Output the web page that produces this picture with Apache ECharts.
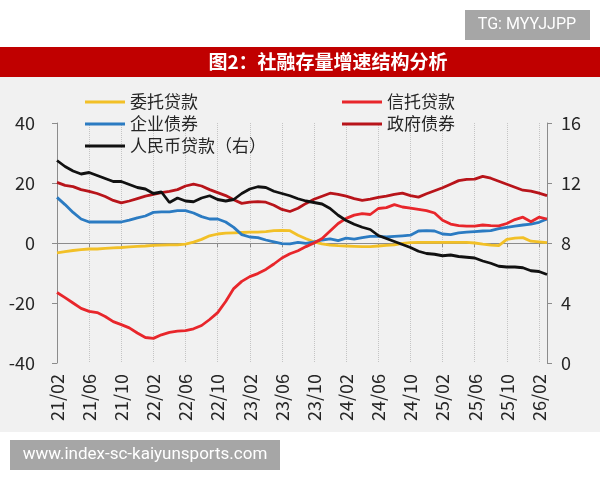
<!DOCTYPE html>
<html>
<head>
<meta charset="utf-8">
<script src="https://cdn.jsdelivr.net/npm/echarts@6/dist/echarts.min.js"></script>
<style>
  html, body { margin: 0; padding: 0; background: #fff; }
  #container { width: 600px; height: 480px; }
</style>
</head>
<body>
<div id="container"></div>
<script>
    // 月份（21/02 - 26/03）
    var months = ["21/02","21/03","21/04","21/05","21/06","21/07","21/08","21/09","21/10","21/11","21/12",
        "22/01","22/02","22/03","22/04","22/05","22/06","22/07","22/08","22/09","22/10","22/11","22/12",
        "23/01","23/02","23/03","23/04","23/05","23/06","23/07","23/08","23/09","23/10","23/11","23/12",
        "24/01","24/02","24/03","24/04","24/05","24/06","24/07","24/08","24/09","24/10","24/11","24/12",
        "25/01","25/02","25/03","25/04","25/05","25/06","25/07","25/08","25/09","25/10","25/11","25/12",
        "26/01","26/02","26/03"];
    // 左轴 (%)
    var entrusted = [-3.3,-2.9,-2.5,-2.2,-2.0,-2.0,-1.8,-1.6,-1.5,-1.3,-1.1,-1.0,-0.8,-0.7,-0.6,-0.6,-0.4,0.3,1.2,2.4,3.0,
        3.3,3.4,3.5,3.6,3.6,3.8,4.1,4.2,4.1,2.6,1.4,0.4,-0.3,-0.7,-0.9,-1.0,-1.1,-1.2,-1.2,-1.0,
        -0.8,-0.6,-0.1,0.1,0.2,0.2,0.2,0.2,0.2,0.2,0.2,0.0,-0.4,-0.7,-0.9,1.2,1.6,1.8,0.6,0.4,0.1];
    var trust = [-16.5,-18.2,-20.0,-21.8,-22.8,-23.2,-24.5,-26.2,-27.2,-28.3,-30.0,-31.5,-31.8,-30.6,-29.8,-29.4,-29.2,-28.6,-27.5,-25.5,-23.2,
        -19.5,-15.2,-12.8,-11.2,-10.2,-8.8,-7.0,-5.0,-3.6,-2.6,-1.2,0.0,1.5,4.0,6.5,8.2,9.3,9.8,9.5,11.5,
        11.8,12.8,12.0,11.6,11.2,10.8,10.0,7.6,6.3,5.8,5.6,5.6,6.0,5.8,5.7,6.5,7.8,8.6,7.1,8.6,8.0];
    var corpBond = [15.2,12.8,10.2,8.0,7.0,7.0,7.0,7.0,7.0,7.6,8.4,9.0,10.2,10.4,10.4,10.8,10.8,10.0,8.8,8.0,8.0,
        7.0,5.2,2.8,2.0,1.8,1.0,0.4,-0.2,-0.3,0.2,-0.1,0.4,1.0,1.4,0.8,1.6,1.3,1.8,2.2,2.2,
        2.0,2.2,2.4,2.6,4.0,4.1,4.0,3.0,2.8,3.4,3.6,3.8,4.0,4.1,4.8,5.2,5.6,6.0,6.3,6.9,8.0];
    var govBond = [20.2,19.2,18.8,17.8,17.2,16.5,15.5,14.2,13.4,14.0,14.8,15.6,16.2,16.8,17.2,17.8,19.0,19.6,19.0,17.8,16.8,
        15.8,14.4,13.2,13.6,13.8,13.6,12.6,11.2,10.5,11.6,13.2,14.6,15.6,16.6,16.2,15.6,14.8,14.2,14.6,15.2,
        15.6,16.2,16.6,15.8,15.3,16.4,17.4,18.4,19.6,20.8,21.2,21.3,22.2,21.6,20.6,19.6,18.6,17.6,17.3,16.6,15.8];
    // 右轴 (%)
    var rmbLoan = [13.5,13.1,12.8,12.6,12.7,12.5,12.3,12.1,12.1,11.9,11.7,11.6,11.3,11.4,10.7,11.0,10.8,10.75,11.0,11.15,10.9,
        10.8,10.9,11.3,11.6,11.75,11.7,11.45,11.3,11.15,10.95,10.8,10.7,10.6,10.3,9.85,9.5,9.25,9.05,8.9,8.5,
        8.3,8.1,7.9,7.7,7.45,7.3,7.25,7.15,7.2,7.1,7.05,7.0,6.8,6.65,6.45,6.4,6.4,6.35,6.15,6.1,5.9];
    var leftTicks = [-40, 40, 20];
    var rightTicks = [0, 16, 4];

    var font = "Noto Sans CJK SC";
    var txt = "#262626";

    function line(name, data, color, axis){
        return {
            name: name, type: 'line', data: data, yAxisIndex: axis, xAxisIndex: 0,
            symbol: 'none', smooth: false,
            lineStyle: { color: color, width: 2.8 },
            itemStyle: { color: color }
        };
    }

    var myChart = echarts.init(document.getElementById('container'));
    myChart.setOption({
        backgroundColor: '#ffffff',
        animation: false,
        textStyle: { fontFamily: font },
        graphic: [
            { type: 'rect', shape: { x: 0, y: 77, width: 600, height: 355 }, style: { fill: '#f1f1f1' }, z: -10 },
            { type: 'rect', shape: { x: 0, y: 47, width: 600, height: 30 }, style: { fill: '#c00000' }, z: -10 },
            { type: 'text', x: 328, y: 62, style: { text: '图2：社融存量增速结构分析', fill: '#ffffff', font: 'bold 19px "Noto Sans CJK SC"', textAlign: 'center', textVerticalAlign: 'middle' } },
            { type: 'rect', shape: { x: 465, y: 10, width: 125, height: 30 }, style: { fill: '#a6a6a6' } },
            { type: 'text', x: 527, y: 25, style: { text: 'TG: MYYJJPP', fill: '#ffffff', font: '16px Roboto', textAlign: 'center', textVerticalAlign: 'middle' } },
            { type: 'rect', shape: { x: 10, y: 440, width: 270, height: 30 }, style: { fill: '#a6a6a6' } },
            { type: 'text', x: 145, y: 455, style: { text: 'www.index-sc-kaiyunsports.com', fill: '#ffffff', font: '17px Roboto', textAlign: 'center', textVerticalAlign: 'middle' } }
        ],
        legend: [
            {
                data: ['委托贷款', '企业债券', '人民币贷款（右）'],
                orient: 'vertical', left: 80, top: 86, itemGap: 0,
                icon: 'rect', itemWidth: 40, itemHeight: 3,
                textStyle: { fontSize: 17, color: txt, lineHeight: 22, fontFamily: font }
            },
            {
                data: ['信托贷款', '政府债券'],
                orient: 'vertical', left: 337, top: 86, itemGap: 0,
                icon: 'rect', itemWidth: 40, itemHeight: 3,
                textStyle: { fontSize: 17, color: txt, lineHeight: 22, fontFamily: font }
            }
        ],
        grid: { left: 57, right: 53, top: 123, bottom: 117 },
        xAxis: [
            {
                type: 'category', data: months, boundaryGap: false, position: 'bottom',
                axisLine: { show: false, onZero: false },
                axisTick: { show: false },
                axisLabel: { interval: 3, rotate: 90, fontSize: 18, color: txt, margin: 11, fontFamily: font },
                splitLine: { show: true, interval: 3, lineStyle: { color: '#c4c4c4', type: 'dotted', width: 1 } }
            },
            {
                type: 'category', data: months, boundaryGap: false, position: 'bottom',
                axisLine: { show: true, onZero: true, lineStyle: { color: '#8c8c8c', width: 1 } },
                axisTick: { show: true, interval: 3, length: 4, lineStyle: { color: '#8c8c8c' } },
                axisLabel: { show: false },
                splitLine: { show: false }
            }
        ],
        yAxis: [
            {
                type: 'value', min: leftTicks[0], max: leftTicks[1], interval: leftTicks[2], position: 'left',
                axisLine: { show: true, lineStyle: { color: '#8c8c8c' } },
                axisTick: { show: true, length: 5, lineStyle: { color: '#8c8c8c' } },
                axisLabel: { fontSize: 18, color: txt, margin: 22, fontFamily: font },
                splitLine: { show: false }
            },
            {
                type: 'value', min: rightTicks[0], max: rightTicks[1], interval: rightTicks[2], position: 'right',
                axisLine: { show: true, lineStyle: { color: '#8c8c8c' } },
                axisTick: { show: true, length: 5, lineStyle: { color: '#8c8c8c' } },
                axisLabel: { fontSize: 18, color: txt, margin: 14, fontFamily: font },
                splitLine: { show: false }
            }
        ],
        series: [
            line('委托贷款', entrusted, '#f2c027', 0),
            line('企业债券', corpBond, '#2b7bc2', 0),
            line('信托贷款', trust, '#e8262b', 0),
            line('政府债券', govBond, '#b8141a', 0),
            line('人民币贷款（右）', rmbLoan, '#111111', 1)
        ]
    });
</script>
</body>
</html>
